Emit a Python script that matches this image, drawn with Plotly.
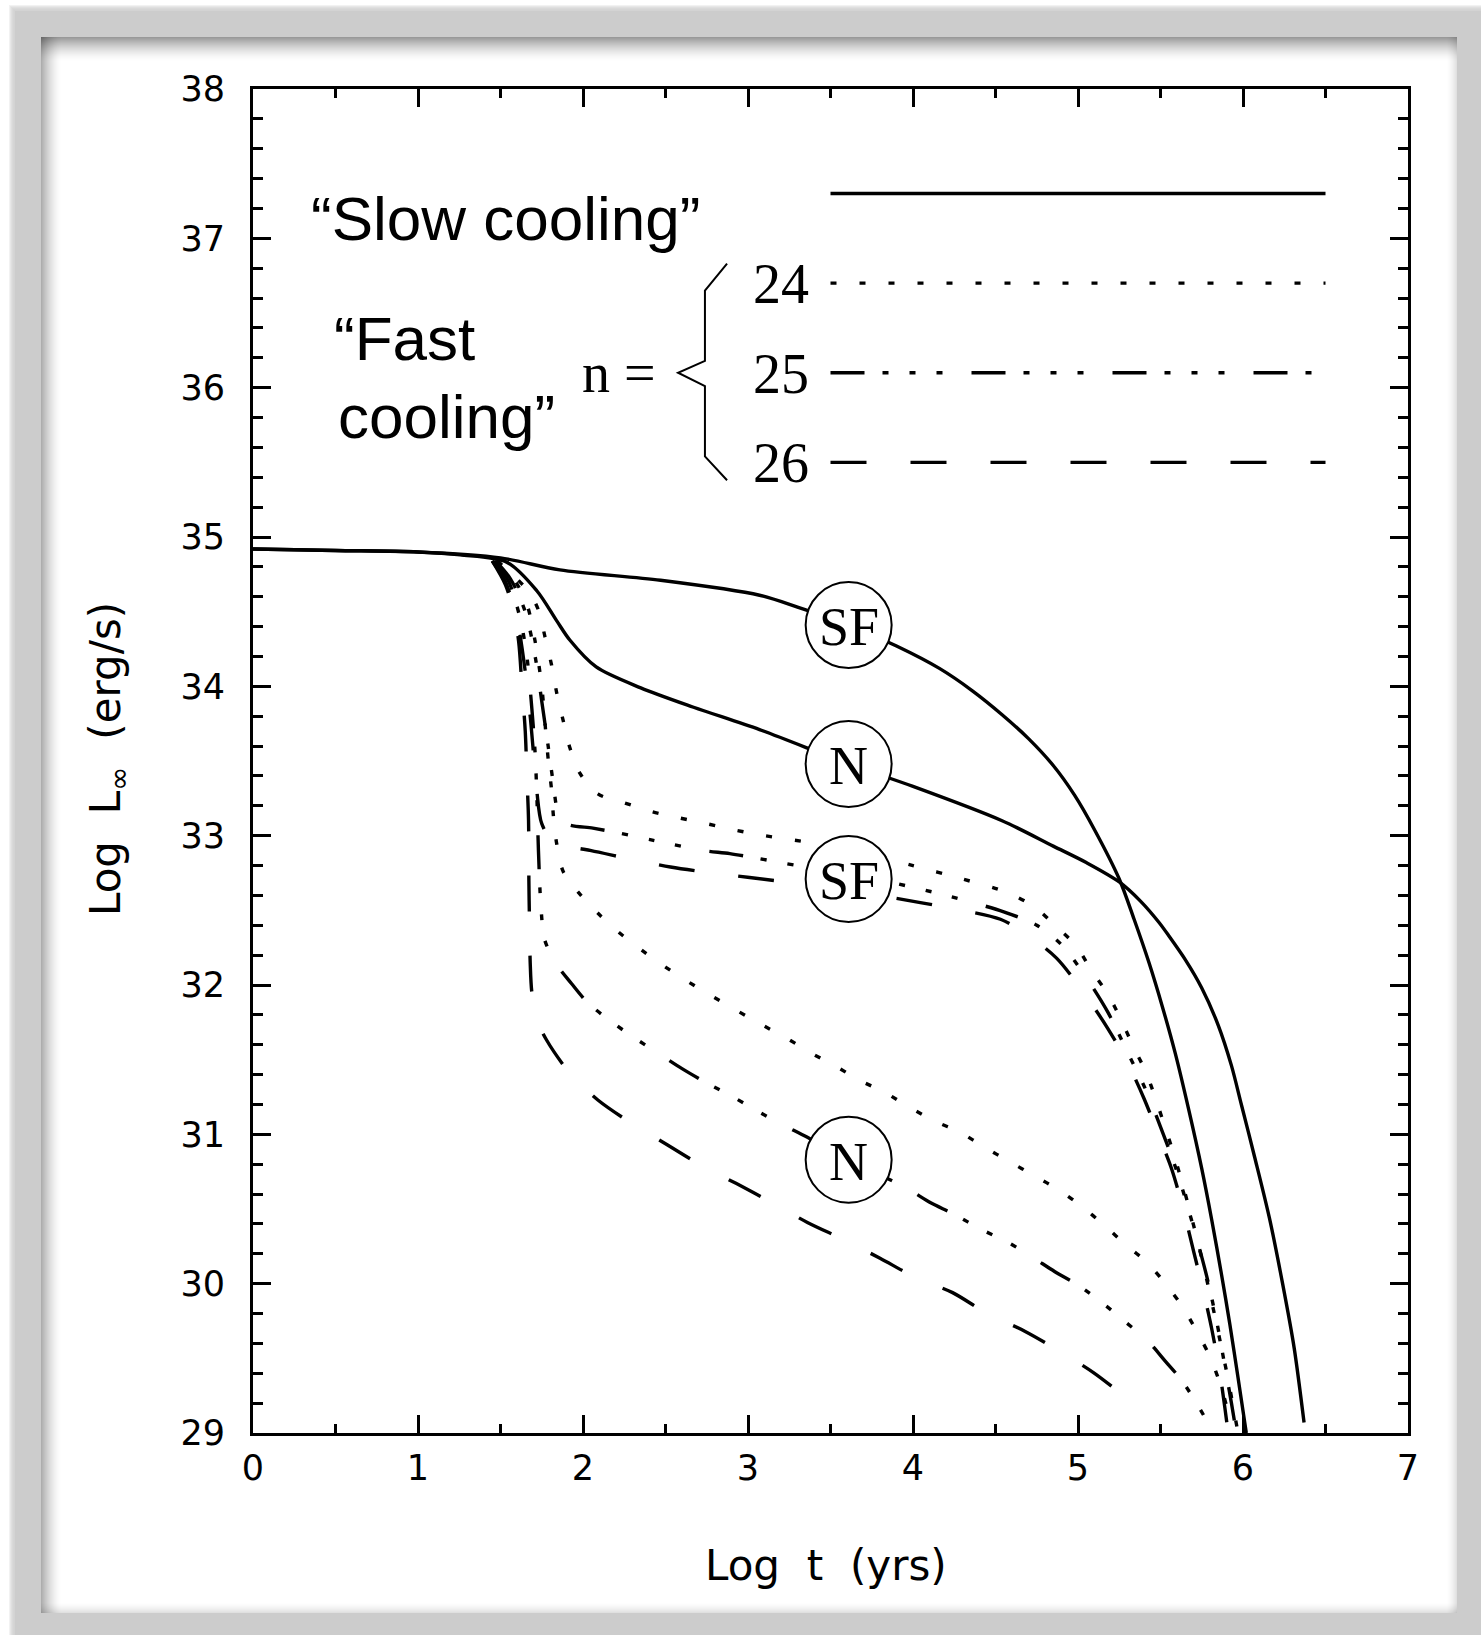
import plotly.graph_objects as go

# ---------------- data (log t [yr], log L_inf [erg/s]) ----------------
t_slow_sf = [0.0, 0.5, 1.0, 1.5, 1.86, 2.47, 3.07, 3.3, 3.61, 3.9, 4.16, 4.36, 4.54, 4.7, 4.85, 4.98, 5.1, 5.25, 5.34, 5.43, 5.51, 5.59, 5.67, 5.75, 5.81, 5.87, 5.92, 5.97, 6.02]
L_slow_sf = [34.92, 34.91, 34.90, 34.86, 34.78, 34.71, 34.61, 34.53, 34.41, 34.27, 34.12, 33.97, 33.81, 33.65, 33.47, 33.27, 33.04, 32.71, 32.44, 32.15, 31.86, 31.54, 31.17, 30.77, 30.43, 30.06, 29.73, 29.37, 29.0]

t_slow_n = [0.0, 0.5, 1.0, 1.255, 1.54, 1.72, 1.84, 1.92, 2.08, 2.35, 2.67, 3.07, 3.61, 4.0, 4.54, 4.85, 5.05, 5.25, 5.38, 5.49, 5.55, 5.65, 5.75, 5.85, 5.93, 5.99, 6.07, 6.16, 6.24, 6.31, 6.37]
L_slow_n = [34.92, 34.91, 34.90, 34.88, 34.83, 34.64, 34.44, 34.31, 34.13, 33.99, 33.86, 33.71, 33.48, 33.33, 33.10, 32.93, 32.82, 32.69, 32.56, 32.42, 32.33, 32.17, 31.98, 31.73, 31.46, 31.20, 30.85, 30.44, 30.0, 29.57, 29.07]

t_n24_sf = [1.48, 1.60, 1.68, 1.73, 1.77, 1.81, 1.84, 1.88, 1.92, 1.98, 2.09, 2.25, 2.42, 2.58, 2.75, 2.91, 3.1, 3.4, 3.7, 4.0, 4.3, 4.57, 4.74, 4.86, 4.99, 5.08, 5.18, 5.26, 5.33, 5.41, 5.47, 5.53, 5.58, 5.63, 5.67, 5.71, 5.75, 5.79, 5.83, 5.87, 5.91, 5.94, 5.97]
L_n24_sf = [34.84, 34.72, 34.62, 34.51, 34.33, 34.14, 33.96, 33.77, 33.59, 33.42, 33.28, 33.22, 33.16, 33.12, 33.08, 33.04, 33.0, 32.95, 32.89, 32.80, 32.71, 32.62, 32.52, 32.40, 32.26, 32.10, 31.94, 31.77, 31.60, 31.42, 31.24, 31.04, 30.87, 30.68, 30.52, 30.35, 30.17, 29.98, 29.78, 29.57, 29.36, 29.18, 29.0]

t_n24_n = [1.48, 1.58, 1.66, 1.71, 1.75, 1.77, 1.79, 1.81, 1.82, 1.84, 1.88, 1.98, 2.10, 2.22, 2.36, 2.50, 2.64, 2.79, 3.09, 3.24, 3.39, 3.54, 3.68, 3.83, 3.98, 4.13, 4.29, 4.44, 4.58, 4.74, 4.88, 5.02, 5.16, 5.29, 5.42, 5.53, 5.63, 5.72, 5.80, 5.87, 5.93]
L_n24_n = [34.84, 34.72, 34.55, 34.30, 34.0, 33.75, 33.5, 33.3, 33.14, 32.95, 32.76, 32.61, 32.47, 32.35, 32.23, 32.12, 32.02, 31.92, 31.73, 31.64, 31.54, 31.45, 31.36, 31.28, 31.18, 31.09, 31.01, 30.91, 30.82, 30.72, 30.63, 30.52, 30.39, 30.26, 30.14, 30.0, 29.85, 29.68, 29.51, 29.3, 29.05]

t_n25_sf = [1.47, 1.56, 1.65, 1.71, 1.75, 1.79, 1.82, 1.85, 1.90, 2.06, 2.21, 2.42, 2.55, 2.73, 2.89, 3.05, 3.3, 3.6, 3.9, 4.2, 4.55, 4.75, 4.9, 5.05, 5.18, 5.3, 5.41, 5.5, 5.6, 5.7, 5.78, 5.84, 5.89, 5.93, 5.96]
L_n25_sf = [34.84, 34.72, 34.50, 34.20, 33.90, 33.59, 33.35, 33.15, 33.08, 33.05, 33.02, 32.97, 32.94, 32.90, 32.88, 32.85, 32.8, 32.76, 32.68, 32.6, 32.49, 32.40, 32.27, 32.05, 31.82, 31.55, 31.30, 31.05, 30.75, 30.38, 30.05, 29.75, 29.45, 29.2, 29.0]

t_n25_n = [1.46, 1.55, 1.62, 1.66, 1.69, 1.71, 1.72, 1.725, 1.73, 1.74, 1.75, 1.76, 1.82, 1.93, 2.03, 2.19, 2.32, 2.46, 2.60, 2.74, 2.91, 3.05, 3.20, 3.36, 3.61, 3.96, 4.11, 4.24, 4.42, 4.57, 4.72, 4.86, 5.0, 5.16, 5.28, 5.42, 5.53, 5.63, 5.74, 5.82]
L_n25_n = [34.84, 34.70, 34.45, 34.20, 33.85, 33.55, 33.28, 33.09, 32.90, 32.62, 32.45, 32.33, 32.17, 32.01, 31.88, 31.74, 31.64, 31.54, 31.44, 31.35, 31.25, 31.16, 31.07, 30.98, 30.83, 30.64, 30.54, 30.47, 30.36, 30.28, 30.18, 30.08, 29.99, 29.86, 29.75, 29.62, 29.48, 29.35, 29.16, 29.0]

t_n26_sf = [1.45, 1.53, 1.60, 1.65, 1.68, 1.70, 1.72, 1.75, 1.82, 1.95, 2.05, 2.30, 2.53, 2.78, 3.01, 3.3, 3.6, 3.9, 4.2, 4.53, 4.7, 4.87, 5.04, 5.18, 5.30, 5.40, 5.49, 5.57, 5.64, 5.70, 5.76, 5.81, 5.86, 5.89, 5.91]
L_n26_sf = [34.84, 34.70, 34.45, 34.10, 33.80, 33.55, 33.30, 33.08, 32.96, 32.92, 32.90, 32.84, 32.79, 32.75, 32.72, 32.68, 32.64, 32.58, 32.52, 32.44, 32.33, 32.18, 31.94, 31.71, 31.48, 31.24, 30.99, 30.76, 30.49, 30.22, 29.95, 29.70, 29.40, 29.17, 29.0]

t_n26_n = [1.45, 1.53, 1.58, 1.61, 1.63, 1.65, 1.66, 1.67, 1.672, 1.676, 1.68, 1.69, 1.72, 1.78, 1.92, 2.09, 2.30, 2.51, 2.72, 2.93, 3.15, 3.36, 3.59, 3.80, 4.02, 4.24, 4.45, 4.68, 4.90, 5.10, 5.31]
L_n26_n = [34.84, 34.68, 34.50, 34.30, 34.0, 33.7, 33.4, 33.1, 32.7, 32.4, 32.15, 31.95, 31.77, 31.63, 31.41, 31.23, 31.07, 30.93, 30.79, 30.67, 30.54, 30.41, 30.29, 30.17, 30.04, 29.94, 29.80, 29.68, 29.54, 29.40, 29.22]

# labelled circles: (log t, log L, text)
circle_t = [3.61, 3.61, 3.61, 3.61]
circle_L = [34.41, 33.48, 32.71, 30.83]
circle_txt = ["SF", "N", "SF", "N"]

x_ticks = [0, 1, 2, 3, 4, 5, 6, 7]
y_ticks = [29, 30, 31, 32, 33, 34, 35, 36, 37, 38]

key_labels = ["24", "25", "26"]
key_L = [36.7, 36.1, 35.5]

# ---------------- styles ----------------
DOT = "6px,23px"
DASHDOT = "34px,18px,6px,21px,6px,21px,6px,29px"
DASH = "36px,44px"
LW = 3.4

W, H = 1481, 1635
fig = go.Figure()

def line(t, L, dash):
    fig.add_trace(go.Scatter(x=t, y=L, mode="lines",
                             line=dict(color="black", width=LW, dash=dash, shape="spline", smoothing=0.85),
                             showlegend=False, hoverinfo="skip"))

line(t_slow_sf, L_slow_sf, "solid")
line(t_slow_n, L_slow_n, "solid")
line(t_n24_sf, L_n24_sf, DOT)
line(t_n24_n, L_n24_n, DOT)
line(t_n25_sf, L_n25_sf, DASHDOT)
line(t_n25_n, L_n25_n, DASHDOT)
line(t_n26_sf, L_n26_sf, DASH)
line(t_n26_n, L_n26_n, DASH)

# key lines
for yy, dash in zip([37.3] + key_L, ["solid", DOT, DASHDOT, DASH]):
    fig.add_trace(go.Scatter(x=[3.5, 6.5], y=[yy, yy], mode="lines",
                             line=dict(color="black", width=LW, dash=dash),
                             showlegend=False, hoverinfo="skip"))

def px(x): return x / W
def py(y): return 1 - y / H

shapes = []
def rect(x0, y0, x1, y1, color):
    shapes.append(dict(type="rect", xref="paper", yref="paper", x0=px(x0), x1=px(x1), y0=py(y1), y1=py(y0),
                       fillcolor=color, line=dict(width=0), layer="below"))

# soft outer shadow of the grey frame
for i in range(6):
    a = 0.05 * (6 - i) / 6
    rect(15 - 6 + i, 11 - 6 + i, 1481, 1635, "rgba(0,0,0,%.3f)" % a)
# grey frame and white panel
rect(15, 11, 1481, 1635, "#cccccc")
rect(41, 37, 1457, 1613, "#ffffff")
# inner shadows (dark on top/left, light on right/bottom)
for i in range(24):
    a = 0.40 * (1 - i / 24) ** 1.6
    rect(41, 37 + i, 1457, 38 + i, "rgba(0,0,0,%.3f)" % a)
for i in range(20):
    a = 0.32 * (1 - i / 20) ** 1.6
    rect(41 + i, 37, 42 + i, 1613, "rgba(0,0,0,%.3f)" % a)
for i in range(10):
    a = 0.12 * (1 - i / 10) ** 1.5
    rect(1456 - i, 37, 1457 - i, 1613, "rgba(0,0,0,%.3f)" % a)
    rect(41, 1612 - i, 1457, 1613 - i, "rgba(0,0,0,%.3f)" % a)

# brace
brace_path = "M 2.873,36.83 L 2.739,36.65 L 2.739,36.18 L 2.576,36.10 L 2.739,36.01 L 2.739,35.54 L 2.873,35.38"
shapes.append(dict(type="path", xref="x", yref="y", path=brace_path,
                   line=dict(color="black", width=2), layer="above"))
# circles
for ct, cl in zip(circle_t, circle_L):
    shapes.append(dict(type="circle", xref="x", yref="y", xsizemode="pixel", ysizemode="pixel",
                       xanchor=ct, yanchor=cl, x0=-43, x1=43, y0=-43, y1=43,
                       fillcolor="white", line=dict(color="black", width=2), layer="above"))

ann = []
SERIF = "Liberation Serif, Times New Roman, serif"
SANS = "Liberation Sans, Arial, sans-serif"
for ct, cl, tx in zip(circle_t, circle_L, circle_txt):
    ann.append(dict(x=ct, y=cl, xref="x", yref="y", text=tx, showarrow=False,
                    font=dict(family=SERIF, size=54, color="black"), yshift=-2))
for lab, yy in zip(key_labels, key_L):
    ann.append(dict(x=3.02, y=yy, xref="x", yref="y", text=lab, showarrow=False, xanchor="left",
                    font=dict(family=SERIF, size=56, color="black"), yshift=-1))
ann.append(dict(x=1.98, y=36.10, xref="x", yref="y", text="n =", showarrow=False, xanchor="left",
                font=dict(family=SERIF, size=56, color="black")))
ann.append(dict(x=1.53, y=37.13, xref="x", yref="y", text="\u201cSlow cooling\u201d", showarrow=False,
                font=dict(family=SANS, size=62, color="black")))
ann.append(dict(x=0.48, y=36.33, xref="x", yref="y", text="\u201cFast", showarrow=False, xanchor="left",
                font=dict(family=SANS, size=62, color="black")))
ann.append(dict(x=0.50, y=35.81, xref="x", yref="y", text="cooling\u201d", showarrow=False, xanchor="left",
                font=dict(family=SANS, size=62, color="black")))
AXF = "DejaVu Sans, Verdana, sans-serif"
ann.append(dict(x=px(826), y=py(1565), xref="paper", yref="paper", xanchor="center", yanchor="middle",
                text="Log  t  (yrs)", showarrow=False, font=dict(family=AXF, size=42, color="black")))
ann.append(dict(x=px(108), y=py(759), xref="paper", yref="paper", xanchor="center", yanchor="middle",
                text="Log  L<sub>\u221e</sub>  (erg/s)", showarrow=False, textangle=-90,
                font=dict(family=AXF, size=42, color="black")))

axis_common = dict(showline=True, linecolor="black", linewidth=3, mirror="ticks",
                   ticks="inside", ticklen=18, tickwidth=3, tickcolor="black",
                   showgrid=False, zeroline=False, automargin=False,
                   tickfont=dict(family=AXF, size=35, color="black"))

fig.update_layout(
    width=W, height=H, autosize=False,
    margin=dict(l=0, r=0, t=0, b=0, pad=0),
    paper_bgcolor="white", plot_bgcolor="rgba(0,0,0,0)",
    xaxis=dict(range=[0, 7], domain=[px(253), px(1408)], tickvals=x_ticks, ticklabelstandoff=2,
               minor=dict(dtick=0.5, tick0=0, ticks="inside", ticklen=9, tickwidth=3, tickcolor="black"),
               **axis_common),
    yaxis=dict(range=[29, 38], domain=[py(1433), py(89)], tickvals=y_ticks, ticklabelstandoff=18,
               minor=dict(dtick=0.2, tick0=29, ticks="inside", ticklen=10, tickwidth=3, tickcolor="black"),
               **axis_common),
    shapes=shapes, annotations=ann,
)

fig.write_html("out.html")
